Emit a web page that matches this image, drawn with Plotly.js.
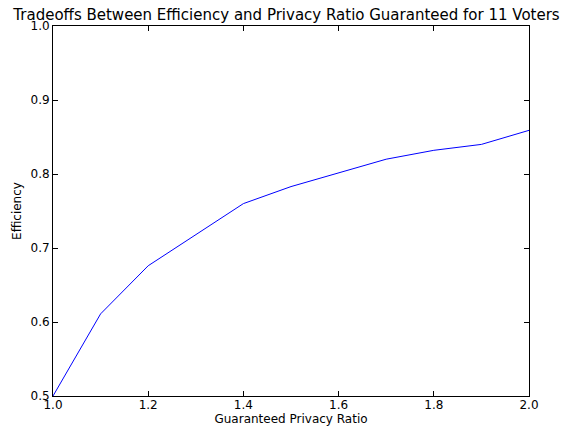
<!DOCTYPE html>
<html><head><meta charset="utf-8">
<script src="https://cdn.plot.ly/plotly-3.0.1.min.js"></script>
<style>html,body{margin:0;padding:0;background:#fff}#c{width:573px;height:430px}</style>
</head><body><div id="c"></div>
<script>
const privacyRatio = [1.0, 1.1, 1.2, 1.3, 1.4, 1.5, 1.6, 1.7, 1.8, 1.9, 2.0];
const efficiency = [0.5, 0.611, 0.676, 0.718, 0.760, 0.783, 0.801, 0.820, 0.832, 0.840, 0.859];
const xTicks = [1.0, 1.2, 1.4, 1.6, 1.8, 2.0];
const yTicks = [0.5, 0.6, 0.7, 0.8, 0.9, 1.0];
const font = {family: 'DejaVu Sans', size: 12, color: '#000'};
Plotly.newPlot('c', [{
  x: privacyRatio, y: efficiency, type: 'scatter', mode: 'lines',
  line: {color: '#0000ff', width: 1}
}], {
  width: 573, height: 430,
  margin: {l: 53, r: 44, t: 26, b: 34},
  paper_bgcolor: '#fff', plot_bgcolor: '#fff',
  font: font,
  title: {text: 'Tradeoffs Between Efficiency and Privacy Ratio Guaranteed for 11 Voters', font: {family: 'DejaVu Sans', size: 15, color: '#000'}, x: 0.5, xanchor: 'center', y: 0.966, yanchor: 'middle'},
  xaxis: {range: [1.0, 2.0], tickvals: xTicks, ticktext: xTicks.map(v => v.toFixed(1)),
    ticks: 'inside', ticklen: 5, tickcolor: '#000', showline: true, linecolor: '#000', linewidth: 1, mirror: 'ticks',
    showgrid: false, zeroline: false, tickfont: font, ticklabelstandoff: -2,
    title: {text: 'Guaranteed Privacy Ratio', font: font, standoff: 3}},
  yaxis: {range: [0.5, 1.0], tickvals: yTicks, ticktext: yTicks.map(v => v.toFixed(1)),
    ticks: 'inside', ticklen: 5, tickcolor: '#000', showline: true, linecolor: '#000', linewidth: 1, mirror: 'ticks',
    showgrid: false, zeroline: false, tickfont: font,
    title: {text: 'Efficiency', font: font, standoff: 6}},
  showlegend: false
}, {displayModeBar: false, staticPlot: true});
</script></body></html>
